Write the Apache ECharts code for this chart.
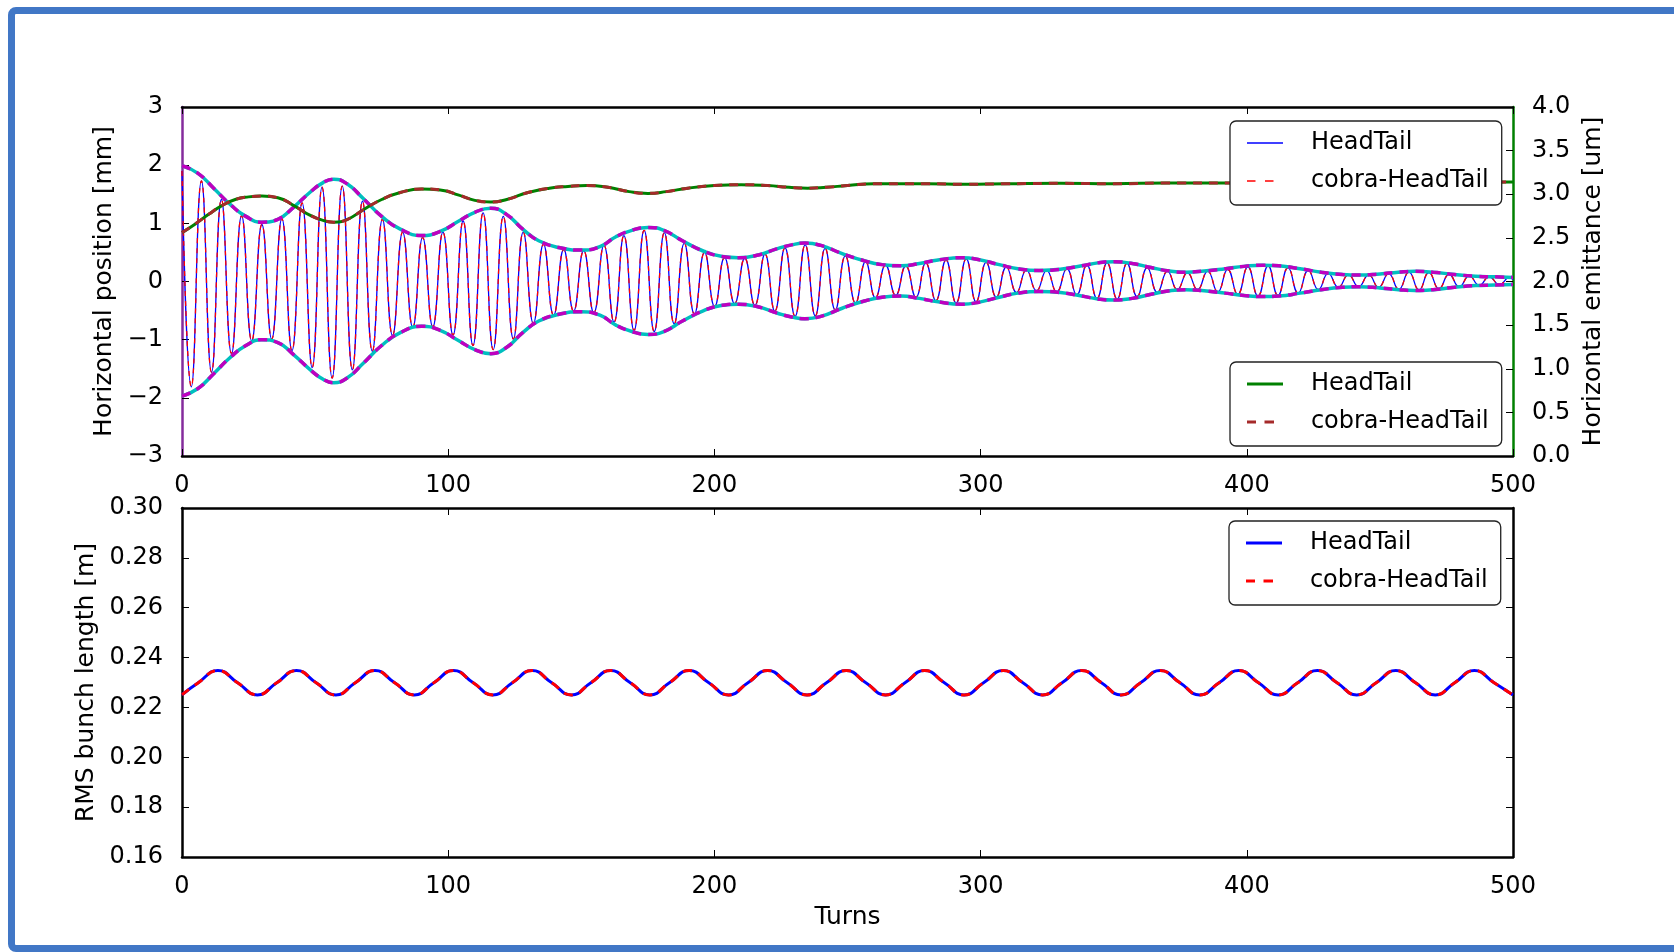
<!DOCTYPE html>
<html><head><meta charset="utf-8">
<script src="https://cdn.jsdelivr.net/npm/echarts@6/dist/echarts.min.js"></script>
<style>
html,body{margin:0;padding:0;width:1674px;height:952px;overflow:hidden;background:#fff;}
#frame{position:absolute;left:8px;top:7px;width:1720px;height:931px;border:7px solid #4177c6;border-radius:8px;}
#chart{position:absolute;left:0;top:0;width:1674px;height:952px;}
</style></head><body>
<div id="frame"></div><div id="chart"></div>
<script>
// ---- Horizontal centroid position [mm]: extrema of the betatron oscillation (turn, value)
const posTurns = [0, 3.5, 7.3, 11.1, 14.8, 18.6, 22.4, 26.2, 30.0, 33.7, 37.5, 41.3, 45.1, 48.9, 52.6, 56.4, 60.2, 64.0, 67.8, 71.5, 75.3, 79.1, 82.9, 86.7, 90.4, 94.2, 98.0, 101.8, 105.6, 109.3, 113.1, 116.9, 120.7, 124.5, 128.2, 132.0, 135.8, 139.6, 143.4, 147.1, 150.9, 154.7, 158.5, 162.3, 166.0, 169.8, 173.6, 177.4, 181.2, 184.9, 188.7, 192.5, 196.3, 200.1, 203.8, 207.6, 211.4, 215.2, 219.0, 222.7, 226.5, 230.3, 234.1, 237.9, 241.6, 245.4, 249.2, 253.0, 256.8, 260.5, 264.3, 268.1, 271.9, 275.7, 279.4, 283.2, 287.0, 290.8, 294.6, 298.3, 302.1, 305.9, 309.7, 313.5, 317.2, 321.0, 324.8, 328.6, 332.4, 336.1, 339.9, 343.7, 347.5, 351.3, 355.0, 358.8, 362.6, 366.4, 370.2, 373.9, 377.7, 381.5, 385.3, 389.1, 392.8, 396.6, 400.4, 404.2, 408.0, 411.7, 415.5, 419.3, 423.1, 426.9, 430.6, 434.4, 438.2, 442.0, 445.8, 449.5, 453.3, 457.1, 460.9, 464.7, 468.4, 472.2, 476.0, 479.8, 483.6, 487.3, 491.1, 494.9, 498.7, 500];
const posValues = [1.90, -1.81, 1.73, -1.56, 1.41, -1.24, 1.13, -1.02, 0.98, -0.99, 1.08, -1.19, 1.35, -1.48, 1.62, -1.66, 1.64, -1.52, 1.38, -1.20, 1.07, -0.93, 0.85, -0.79, 0.76, -0.78, 0.85, -0.92, 1.04, -1.10, 1.18, -1.17, 1.12, -0.99, 0.85, -0.72, 0.64, -0.58, 0.55, -0.51, 0.53, -0.54, 0.62, -0.70, 0.79, -0.84, 0.88, -0.86, 0.84, -0.73, 0.66, -0.56, 0.50, -0.43, 0.41, -0.38, 0.40, -0.41, 0.47, -0.51, 0.58, -0.60, 0.63, -0.59, 0.57, -0.49, 0.44, -0.37, 0.34, -0.28, 0.28, -0.24, 0.27, -0.27, 0.32, -0.33, 0.37, -0.37, 0.39, -0.35, 0.33, -0.27, 0.25, -0.19, 0.20, -0.16, 0.19, -0.18, 0.22, -0.23, 0.28, -0.29, 0.32, -0.30, 0.31, -0.26, 0.24, -0.19, 0.18, -0.14, 0.15, -0.14, 0.18, -0.18, 0.21, -0.22, 0.25, -0.25, 0.27, -0.24, 0.24, -0.20, 0.19, -0.14, 0.14, -0.10, 0.115, -0.09, 0.115, -0.10, 0.135, -0.135, 0.16, -0.145, 0.155, -0.125, 0.125, -0.09, 0.095, -0.065, 0.08, -0.055, 0.07, 0.03];

// ---- Envelope of the oscillation [mm]
const envTurns = [0, 6, 12, 18, 24, 30, 36, 42, 48, 53, 57, 62, 68, 75, 82, 90, 97, 104, 110, 116, 122, 128, 134, 142, 150, 157, 163, 169, 175, 181, 188, 196, 203, 209, 216, 224, 229, 234, 240, 248, 256, 263, 270, 277, 284, 293, 300, 307, 314, 322, 330, 338, 344, 350, 357, 364, 371, 377, 384, 392, 399, 406, 412, 420, 428, 436, 442, 450, 457, 463, 470, 478, 486, 493, 500];
const envUpper = [1.99, 1.86, 1.60, 1.33, 1.12, 1.02, 1.07, 1.28, 1.53, 1.70, 1.76, 1.68, 1.43, 1.12, 0.90, 0.79, 0.86, 1.04, 1.19, 1.26, 1.15, 0.90, 0.70, 0.58, 0.54, 0.60, 0.77, 0.88, 0.93, 0.88, 0.70, 0.52, 0.43, 0.41, 0.45, 0.57, 0.63, 0.66, 0.62, 0.48, 0.36, 0.29, 0.27, 0.31, 0.37, 0.41, 0.37, 0.29, 0.22, 0.19, 0.21, 0.27, 0.32, 0.34, 0.31, 0.24, 0.18, 0.16, 0.18, 0.22, 0.26, 0.28, 0.27, 0.22, 0.16, 0.12, 0.11, 0.13, 0.16, 0.175, 0.16, 0.12, 0.09, 0.08, 0.07];
const envLower = [-1.97, -1.84, -1.58, -1.31, -1.10, -1.00, -1.05, -1.26, -1.51, -1.68, -1.74, -1.66, -1.41, -1.10, -0.88, -0.77, -0.84, -1.02, -1.17, -1.24, -1.13, -0.88, -0.68, -0.56, -0.52, -0.58, -0.75, -0.86, -0.91, -0.86, -0.68, -0.50, -0.41, -0.39, -0.43, -0.55, -0.61, -0.64, -0.60, -0.46, -0.34, -0.27, -0.25, -0.29, -0.35, -0.39, -0.35, -0.27, -0.20, -0.17, -0.19, -0.25, -0.30, -0.32, -0.29, -0.22, -0.16, -0.14, -0.16, -0.20, -0.24, -0.26, -0.25, -0.20, -0.14, -0.10, -0.09, -0.11, -0.14, -0.155, -0.14, -0.10, -0.07, -0.06, -0.05];

// ---- Horizontal emittance [um] (right axis)
const emitTurns = [0, 5, 10, 15, 20, 25, 30, 36, 42, 48, 53, 57, 62, 68, 75, 82, 90, 97, 104, 110, 116, 122, 130, 138, 145, 152, 160, 168, 175, 182, 190, 200, 210, 220, 228, 235, 242, 250, 260, 270, 280, 294, 310, 330, 350, 370, 400, 430, 460, 500];
const emitValues = [2.56, 2.66, 2.77, 2.87, 2.94, 2.97, 2.98, 2.96, 2.87, 2.76, 2.70, 2.68, 2.71, 2.82, 2.94, 3.02, 3.06, 3.05, 2.99, 2.93, 2.91, 2.94, 3.02, 3.07, 3.09, 3.10, 3.08, 3.03, 3.01, 3.03, 3.07, 3.10, 3.11, 3.10, 3.08, 3.07, 3.08, 3.10, 3.12, 3.12, 3.12, 3.115, 3.12, 3.125, 3.12, 3.13, 3.13, 3.13, 3.135, 3.14];

// ---- RMS bunch length [m]
const bunchTurns = [0, 6.1, 13.5, 20.9, 28.3, 35.6, 43.0, 50.4, 57.8, 65.1, 72.5, 79.9, 87.3, 94.6, 102.0, 109.4, 116.8, 124.1, 131.5, 138.9, 146.3, 153.6, 161.0, 168.4, 175.8, 183.1, 190.5, 197.9, 205.3, 212.6, 220.0, 227.4, 234.8, 242.1, 249.5, 256.9, 264.3, 271.6, 279.0, 286.4, 293.8, 301.1, 308.5, 315.9, 323.3, 330.6, 338.0, 345.4, 352.8, 360.1, 367.5, 374.9, 382.3, 389.6, 397.0, 404.4, 411.8, 419.1, 426.5, 433.9, 441.3, 448.6, 456.0, 463.4, 470.8, 478.1, 485.5, 492.9, 500];
const bunchValues = [0.2251, 0.2299, 0.2348, 0.2299, 0.2250, 0.2299, 0.2348, 0.2299, 0.2250, 0.2299, 0.2348, 0.2299, 0.2250, 0.2299, 0.2348, 0.2299, 0.2250, 0.2299, 0.2348, 0.2299, 0.2250, 0.2299, 0.2348, 0.2299, 0.2250, 0.2299, 0.2348, 0.2299, 0.2250, 0.2299, 0.2348, 0.2299, 0.2250, 0.2299, 0.2348, 0.2299, 0.2250, 0.2299, 0.2348, 0.2299, 0.2250, 0.2299, 0.2348, 0.2299, 0.2250, 0.2299, 0.2348, 0.2299, 0.2250, 0.2299, 0.2348, 0.2299, 0.2250, 0.2299, 0.2348, 0.2299, 0.2250, 0.2299, 0.2348, 0.2299, 0.2250, 0.2299, 0.2348, 0.2299, 0.2250, 0.2299, 0.2348, 0.2299, 0.2250];

// ---- tick/legend labels
const xTicks = [0, 100, 200, 300, 400, 500];
const legendNames = ['HeadTail', 'cobra-HeadTail'];

const FONT = 'DejaVu Sans';
const pair = (xs, ys) => xs.map((x, i) => [x, ys[i]]);
const TICK = { show: true, inside: true, length: 7, lineStyle: { color: '#000', width: 1 } };
const blackLine = { show: true, onZero: false, lineStyle: { color: '#000', width: 2.5 } };
const lbl = { fontSize: 24, color: '#000', fontFamily: FONT };
const nameStyle = { fontSize: 25, color: '#000', fontFamily: FONT };

function xAx(grid, pos, extra) {
  return Object.assign({
    gridIndex: grid, type: 'value', min: xTicks[0], max: xTicks[xTicks.length - 1], interval: 100,
    position: pos, axisLine: blackLine, axisTick: TICK, splitLine: { show: false },
    axisLabel: pos === 'bottom' ? Object.assign({ margin: 18 }, lbl) : { show: false }
  }, extra || {});
}

const legendBase = {
  orient: 'vertical', itemWidth: 36, itemHeight: 10, itemGap: 14,
  padding: [10, 13, 12, 17], borderColor: '#222', borderWidth: 1.3, borderRadius: 6,
  backgroundColor: '#fff', z: 20, selectedMode: false,
  textStyle: { fontSize: 24, fontFamily: FONT, color: '#000' },
  formatter: n => '   ' + n,
  itemStyle: { borderWidth: 0 }
};
const solidThin = 'path://M0,0H36V1.3H0Z';
const dashThin = 'path://M0,0H8.5V1.3H0ZM18,0H26.5V1.3H18ZM35.95,0H36V0.01H35.95Z';
const solidThick = 'path://M0,0H36V3H0Z';
const dashThick = 'path://M0,0H9V3H0ZM17.5,0H27V3H17.5ZM35.95,0H36V0.01H35.95Z';

const lineBase = { type: 'line', symbol: 'none', smooth: 0.5, silent: true, animation: false };

const option = {
  animation: false,
  textStyle: { fontFamily: FONT },
  grid: [
    { left: 182, top: 107, width: 1331, height: 349 },
    { left: 182, top: 508, width: 1331, height: 349 }
  ],
  xAxis: [
    xAx(0, 'bottom'), xAx(0, 'top'),
    xAx(1, 'bottom', { name: 'Turns', nameLocation: 'middle', nameGap: 48, nameTextStyle: nameStyle }),
    xAx(1, 'top')
  ],
  yAxis: [
    { gridIndex: 0, type: 'value', min: -3, max: 3, interval: 1, position: 'left',
      name: 'Horizontal position [mm]', nameLocation: 'middle', nameRotate: 90, nameGap: 61, nameTextStyle: nameStyle,
      axisLine: { show: true, onZero: false, lineStyle: { color: '#842c9c', width: 2.5 } },
      axisTick: TICK, splitLine: { show: false },
      axisLabel: Object.assign({ margin: 19, formatter: v => (v < 0 ? '\u2212' + Math.abs(v) : String(v)) }, lbl) },
    { gridIndex: 0, type: 'value', min: 0, max: 4, interval: 0.5, position: 'right',
      name: 'Horizontal emittance [um]', nameLocation: 'middle', nameRotate: 90, nameGap: 64, nameTextStyle: nameStyle,
      axisLine: { show: true, onZero: false, lineStyle: { color: '#008000', width: 2.5 } },
      axisTick: TICK, splitLine: { show: false },
      axisLabel: Object.assign({ margin: 19, formatter: v => v.toFixed(1) }, lbl) },
    { gridIndex: 1, type: 'value', min: 0.16, max: 0.30, interval: 0.02, position: 'left',
      name: 'RMS bunch length [m]', nameLocation: 'middle', nameRotate: 90, nameGap: 80, nameTextStyle: nameStyle,
      axisLine: blackLine, axisTick: TICK, splitLine: { show: false },
      axisLabel: Object.assign({ margin: 19, formatter: v => v.toFixed(2) }, lbl) },
    { gridIndex: 1, type: 'value', min: 0.16, max: 0.30, interval: 0.02, position: 'right',
      axisLine: blackLine, axisTick: TICK, splitLine: { show: false }, axisLabel: { show: false } }
  ],
  legend: [
    Object.assign({}, legendBase, { left: 1230, top: 121, data: [
      { name: legendNames[0], icon: solidThin, itemStyle: { color: '#0000ff', borderWidth: 0 } },
      { name: legendNames[1], icon: dashThin, itemStyle: { color: '#ff0000', borderWidth: 0 } } ] }),
    Object.assign({}, legendBase, { left: 1230, top: 362, data: [
      { name: legendNames[0], icon: solidThick, itemStyle: { color: '#008000', borderWidth: 0 } },
      { name: legendNames[1], icon: dashThick, itemStyle: { color: '#a52a2a', borderWidth: 0 } } ] }),
    Object.assign({}, legendBase, { left: 1229, top: 521, data: [
      { name: legendNames[0], icon: solidThick, itemStyle: { color: '#0000ff', borderWidth: 0 } },
      { name: legendNames[1], icon: dashThick, itemStyle: { color: '#ff0000', borderWidth: 0 } } ] })
  ],
  series: [
    Object.assign({}, lineBase, { name: legendNames[0], xAxisIndex: 0, yAxisIndex: 0, z: 2, color: '#0000ff',
      data: pair(posTurns, posValues), lineStyle: { color: '#0000ff', width: 1.3 } }),
    Object.assign({}, lineBase, { name: legendNames[1], xAxisIndex: 0, yAxisIndex: 0, z: 3, color: '#ff0000',
      data: pair(posTurns, posValues), lineStyle: { color: '#ff0000', width: 1.3, type: [5, 5] } }),
    Object.assign({}, lineBase, { name: 'envelope', xAxisIndex: 0, yAxisIndex: 0, z: 4, color: '#00bfbf',
      data: pair(envTurns, envUpper), lineStyle: { color: '#00bfbf', width: 3.5 } }),
    Object.assign({}, lineBase, { name: 'envelope', xAxisIndex: 0, yAxisIndex: 0, z: 4, color: '#00bfbf',
      data: pair(envTurns, envLower), lineStyle: { color: '#00bfbf', width: 3.5 } }),
    Object.assign({}, lineBase, { name: 'cobra-envelope', xAxisIndex: 0, yAxisIndex: 0, z: 5, color: '#bf00bf',
      data: pair(envTurns, envUpper), lineStyle: { color: '#bf00bf', width: 3.5, type: [9, 7] } }),
    Object.assign({}, lineBase, { name: 'cobra-envelope', xAxisIndex: 0, yAxisIndex: 0, z: 5, color: '#bf00bf',
      data: pair(envTurns, envLower), lineStyle: { color: '#bf00bf', width: 3.5, type: [9, 7] } }),
    Object.assign({}, lineBase, { name: legendNames[0], xAxisIndex: 0, yAxisIndex: 1, z: 6, color: '#008000',
      data: pair(emitTurns, emitValues), lineStyle: { color: '#008000', width: 3 } }),
    Object.assign({}, lineBase, { name: legendNames[1], xAxisIndex: 0, yAxisIndex: 1, z: 7, color: '#a52a2a',
      data: pair(emitTurns, emitValues), lineStyle: { color: '#a52a2a', width: 3, type: [9, 7] } }),
    Object.assign({}, lineBase, { name: legendNames[0], xAxisIndex: 2, yAxisIndex: 2, z: 2, color: '#0000ff',
      data: pair(bunchTurns, bunchValues), lineStyle: { color: '#0000ff', width: 3 } }),
    Object.assign({}, lineBase, { name: legendNames[1], xAxisIndex: 2, yAxisIndex: 2, z: 3, color: '#ff0000',
      data: pair(bunchTurns, bunchValues), lineStyle: { color: '#ff0000', width: 3, type: [9, 7] } })
  ]
};

const chart = echarts.init(document.getElementById('chart'), null, { renderer: 'canvas' });
chart.setOption(option);
</script></body></html>
